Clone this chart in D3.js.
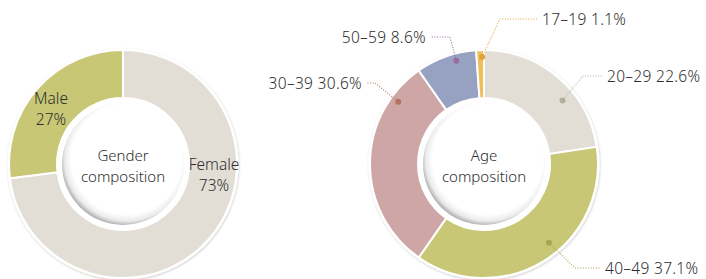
<!DOCTYPE html>
<html>
<head>
<meta charset="utf-8">
<script src="https://d3js.org/d3.v7.min.js"></script>
<style>
  body { margin: 0; background: #fff; }
  svg { display: block; font-family: "Noto Sans", "Open Sans", sans-serif; font-weight: 300; }
  text { fill: #2e2e2e; }
</style>
</head>
<body>
<div id="chart"></div>
<script>
// gender data
var genderLabels = ['Female', 'Male'];
var genderValues = [73, 27];
var genderColors = ['#e2ded6', '#c8c775'];

// age data (in drawing order, clockwise from 12 o'clock)
var ageLabels = ['20\u201329', '40\u201349', '30\u201339', '50\u201359', '17\u201319'];
var ageValues = [22.6, 37.1, 30.6, 8.6, 1.1];
var ageColors = ['#e2ded6', '#c8c775', '#cfa6a6', '#97a2c3', '#efbd5c'];
var ageLine = ['#b3ae9c', '#a5a84e', '#b5735f', '#9a6c9e', '#e0a33a'];

var W = 706, H = 279;
var outerR = 114, innerR = 66;

var svg = d3.select('#chart').append('svg')
    .attr('width', W)
    .attr('height', H);

var defs = svg.append('defs');
var sh = defs.append('filter').attr('id', 'ringShadow')
    .attr('x', '-10%').attr('y', '-10%').attr('width', '120%').attr('height', '120%');
sh.append('feDropShadow')
    .attr('dx', 0.5).attr('dy', 1).attr('stdDeviation', 1.2)
    .attr('flood-color', '#000').attr('flood-opacity', 0.22);

var grad = defs.append('radialGradient').attr('id', 'holeGrad')
    .attr('cx', '53%').attr('cy', '46%').attr('r', '54%');
grad.append('stop').attr('offset', '84%').attr('stop-color', '#fff');
grad.append('stop').attr('offset', '94%').attr('stop-color', '#ebebeb');
grad.append('stop').attr('offset', '100%').attr('stop-color', '#b8b8b8');

var pie = d3.pie().sort(null).value(function(d) { return d; });
var arc = d3.arc().innerRadius(innerR).outerRadius(outerR);

function donut(cx, cy, values, colors, centerLines) {
    var g = svg.append('g').attr('transform', 'translate(' + cx + ',' + cy + ')');

    g.append('circle')
        .attr('r', outerR + 1.5)
        .attr('fill', '#fff')
        .attr('filter', 'url(#ringShadow)');

    var arcs = pie(values);
    g.selectAll('path.slice')
        .data(arcs)
        .enter()
        .append('path')
        .attr('class', 'slice')
        .attr('d', arc)
        .attr('fill', function(d, i) { return colors[i]; })
        .attr('stroke', '#fff')
        .attr('stroke-width', 2);

    // white hole with soft inner shading
    g.append('circle').attr('r', innerR - 1).attr('fill', '#fff');
    g.append('circle').attr('r', innerR - 5).attr('fill', 'url(#holeGrad)');

    g.selectAll('text.center')
        .data(centerLines)
        .enter()
        .append('text')
        .attr('class', 'center')
        .attr('text-anchor', 'middle')
        .attr('x', 0)
        .attr('y', function(d, i) { return -3 + i * 21; })
        .style('font-size', '15px')
        .text(function(d) { return d; });

    return { g: g, arcs: arcs };
}

// left: gender
var left = donut(123, 164, genderValues, genderColors, ['Gender', 'composition']);
var genderTextPos = [[91, 6], [-72, -60]];
left.g.selectAll('text.glabel')
    .data(genderLabels)
    .enter()
    .append('text')
    .attr('class', 'glabel')
    .attr('text-anchor', 'middle')
    .attr('transform', function(d, i) {
        return 'translate(' + genderTextPos[i][0] + ',' + genderTextPos[i][1] + ')';
    })
    .style('font-size', '15.5px')
    .each(function(d, i) {
        var t = d3.select(this);
        t.append('tspan').attr('x', 0).attr('y', 0).text(d);
        t.append('tspan').attr('x', 0).attr('y', 21).text(genderValues[i] + '%');
    });

// right: age
var right = donut(484, 164, ageValues, ageColors, ['Age', 'composition']);

// leader layout: dot angle (deg) and radius, elbow point, line end, text anchor
var ageLayout = [
    { ang: 51, r: 101, elbow: [99, -88], end: [119, -88], anchor: 'start' },
    { ang: 140.5, r: 102, elbow: [91, 104], end: [117, 104], anchor: 'start' },
    { ang: 306, r: 106, elbow: [-109, -81], end: [-118, -81], anchor: 'end' },
    { ang: 345, r: 107, elbow: [-34, -127], end: [-54, -127], anchor: 'end' },
    { ang: -1, r: 107, elbow: [16, -145], end: [54, -145], anchor: 'start' }
];

var labels = right.g.selectAll('g.lbl')
    .data(right.arcs)
    .enter()
    .append('g')
    .attr('class', 'lbl');

labels.each(function(d, i) {
    var L = ageLayout[i];
    var a = L.ang * Math.PI / 180;
    var px = Math.sin(a) * L.r, py = -Math.cos(a) * L.r;
    var g = d3.select(this);
    g.append('path')
        .attr('d', d3.line()([[px, py], L.elbow, L.end]))
        .attr('fill', 'none')
        .attr('stroke', ageLine[i])
        .attr('stroke-width', 1.1)
        .attr('stroke-dasharray', '1,1.6');
    g.append('circle')
        .attr('cx', px).attr('cy', py).attr('r', 3)
        .attr('fill', ageLine[i]);
    g.append('text')
        .attr('x', L.end[0] + (L.anchor === 'start' ? 4 : -4))
        .attr('y', L.end[1] + 5.5)
        .attr('text-anchor', L.anchor)
        .style('font-size', '15.5px')
        .style('letter-spacing', '0.3px')
        .text(ageLabels[i] + ' ' + ageValues[i] + '%');
});
</script>
</body>
</html>
